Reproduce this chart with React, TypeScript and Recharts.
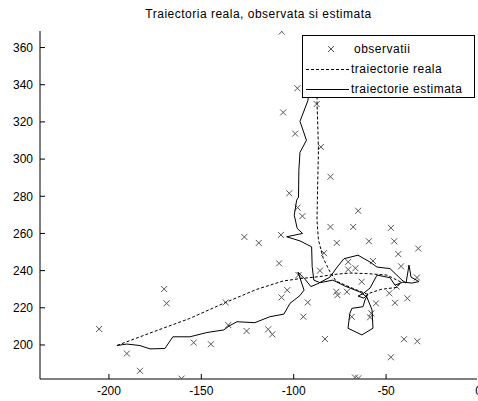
import React from "react";
import { ScatterChart, Scatter, XAxis, YAxis } from "recharts";

type Pt = { x: number; y: number };

// observatii (zgomotoase)
const obsX = [
  -106.5, -98.0, -87.6, -105.7, -99.2, -85.3, -80.1, -102.4, -97.9, -95.3,
  -65.1, -126.7, -118.9, -106.9, -107.9, -83.6, -85.8, -97.4, -103.5, -106.6,
  -92.4, -94.8, -136.8, -135.4, -125.5, -113.8, -111.6, -154.1, -144.8, -83.1,
  -80.1, -67.8, -47.4, -76.7, -59.3, -45.6, -32.6, -43.4, -57.1, -41.9,
  -70.5, -66.6, -70.5, -33.3, -63.2, -76.9, -71.2, -76.3, -44.3, -48.3,
  -38.5, -45.2, -55.5, -58.0, -68.6, -58.7, -40.3, -33.1, -47.4, -66.8,
  -65.0, -170.1, -168.8, -205.3, -190.3, -183.2, -160.7,
];
const obsY = [
  368.6, 338.1, 329.6, 325.1, 313.7, 306.5, 290.5, 281.6, 273.9, 269.3,
  272.2, 258.1, 254.9, 259.2, 243.9, 249.4, 240.0, 237.6, 229.5, 225.6,
  222.9, 215.2, 222.9, 210.7, 207.5, 208.4, 205.7, 201.3, 200.4, 203.2,
  263.5, 263.5, 263.0, 254.9, 255.8, 255.8, 251.9, 248.9, 245.2, 242.3,
  244.7, 241.3, 240.6, 236.3, 234.0, 228.6, 228.6, 226.8, 231.4, 227.8,
  225.1, 222.7, 222.4, 217.0, 215.2, 214.9, 203.1, 202.0, 193.4, 182.5,
  182.1, 230.1, 222.4, 208.6, 195.4, 186.1, 181.9,
];

// traiectorie reala
const realX = [
  -195.5, -177.8, -156.2, -136.8, -120.1, -105.8, -96.6, -85.8, -78.8, -69.6,
  -60.4, -49.5, -41.9, -44.1, -52.8, -60.4, -69.6, -77.1, -80.4, -84.0,
  -86.6, -87.4, -87.1, -86.6, -86.9, -87.4, -86.9,
];
const realY = [
  199.8, 206.4, 214.3, 222.9, 229.9, 234.4, 235.7, 236.8, 237.9, 238.7,
  238.4, 237.6, 233.8, 231.0, 229.9, 227.4, 231.1, 234.4, 239.4, 246.6,
  256.4, 267.1, 283.2, 304.7, 315.4, 331.5, 353.0,
];

// traiectorie estimata
const estX = [
  -195.7, -190.3, -183.2, -177.8, -169.7, -165.4, -156.2, -147.0, -137.8, -135.0,
  -130.7, -121.0, -112.9, -105.3, -102.0, -96.6, -94.4, -97.7, -93.9, -90.7,
  -86.9, -80.4, -76.1, -72.8, -65.2, -58.7, -54.9, -47.9, -41.4, -39.2,
  -37.6, -36.5, -32.2, -36.0, -40.9, -45.2, -47.9, -54.9, -58.7, -62.5,
  -65.2, -62.0, -59.8, -61.4, -62.5, -68.5, -69.6, -70.6, -63.1, -57.1,
  -57.6, -60.4, -64.1, -72.3, -78.8, -85.8, -89.1, -90.0, -90.3, -96.6,
  -103.8, -95.2, -98.1, -99.7, -98.4, -97.4, -97.2, -96.6, -93.1, -96.6,
  -92.3, -91.2,
];
const estY = [
  199.7, 200.5, 199.7, 197.9, 198.1, 204.4, 204.4, 206.7, 208.1, 210.2,
  212.5, 212.0, 215.2, 216.6, 222.4, 226.6, 229.5, 239.2, 235.4, 231.4,
  233.0, 236.5, 242.4, 246.4, 248.3, 244.6, 241.9, 241.1, 234.9, 233.3,
  243.0, 236.5, 234.1, 233.3, 233.8, 232.2, 236.2, 237.6, 230.6, 227.6,
  226.3, 225.2, 227.4, 224.2, 220.6, 219.7, 217.0, 209.0, 205.4, 209.0,
  218.8, 225.8, 228.5, 231.7, 234.9, 233.5, 234.9, 242.1, 252.8, 256.0,
  258.2, 260.0, 262.7, 269.8, 277.9, 279.5, 294.0, 303.6, 310.1, 320.3,
  331.5, 347.7,
];

const xTicks = [-200, -150, -100, -50, 0];
const yTicks = [200, 220, 240, 260, 280, 300, 320, 340, 360];

const zip = (xs: number[], ys: number[]): Pt[] => xs.map((x, i) => ({ x, y: ys[i] }));

const observatii = zip(obsX, obsY);
const reala = zip(realX, realY);
const estimata = zip(estX, estY);

const font = "'Liberation Sans', Arial, Helvetica, sans-serif";

const Cross = (props: any) => {
  const { cx, cy } = props;
  if (cx == null || cy == null) return <g />;
  return (
    <path
      d={`M${cx - 3},${cy - 3}L${cx + 3},${cy + 3}M${cx + 3},${cy - 3}L${cx - 3},${cy + 3}`}
      stroke="#555"
      strokeWidth={1}
      fill="none"
    />
  );
};

const NoShape = () => <g />;

const LegendBox = () => (
  <div
    style={{
      position: "absolute",
      left: 302,
      top: 35,
      width: 171,
      height: 61,
      border: "1px solid #000",
      background: "#fff",
      fontFamily: font,
      fontSize: 12,
      letterSpacing: 0.5,
      color: "#000",
    }}
  >
    {[
      { label: "observatii", kind: "x" },
      { label: "traiectorie reala", kind: "dash" },
      { label: "traiectorie estimata", kind: "solid" },
    ].map((r, i) => (
      <div
        key={r.label}
        style={{ position: "absolute", top: 4 + i * 20, left: 0, height: 18, display: "flex", alignItems: "center" }}
      >
        <svg width={48} height={18} style={{ display: "block" }}>
          {r.kind === "x" && (
            <path d="M25,6L31,12M31,6L25,12" stroke="#555" strokeWidth={1} />
          )}
          {r.kind === "dash" && (
            <line x1={3} y1={9.5} x2={46} y2={9.5} stroke="#000" strokeDasharray="3 2" />
          )}
          {r.kind === "solid" && <line x1={3} y1={9.5} x2={46} y2={9.5} stroke="#000" />}
        </svg>
        <span style={{ marginLeft: r.kind === "x" ? 3 : 0, whiteSpace: "nowrap" }}>{r.label}</span>
      </div>
    ))}
  </div>
);

const axisTick = { fill: "#000", fontSize: 12, fontFamily: font };

export default function App() {
  return (
    <div style={{ position: "absolute", left: 0, top: 0, width: 478, height: 401, background: "#fff" }}>
      <div
        style={{
          position: "absolute",
          left: 40,
          width: 437,
          top: 7,
          textAlign: "center",
          fontFamily: font,
          fontSize: 12,
          letterSpacing: 0.5,
          color: "#000",
        }}
      >
        Traiectoria reala, observata si estimata
      </div>
      <ScatterChart width={478} height={401} margin={{ top: 31, right: 1, bottom: 0, left: 0 }}>
        <XAxis
          xAxisId="b"
          type="number"
          dataKey="x"
          domain={[-237.3, -0.8]}
          ticks={xTicks}
          interval={0}
          allowDataOverflow
          height={22}
          tickSize={-5}
          tickMargin={12}
          stroke="#000"
          tick={axisTick}
        />
        <XAxis
          xAxisId="t"
          orientation="top"
          type="number"
          dataKey="x"
          domain={[-237.3, -0.8]}
          ticks={xTicks}
          interval={0}
          allowDataOverflow
          height={0}
          tickSize={-5}
          stroke="#000"
          tick={false}
        />
        <YAxis
          yAxisId="l"
          type="number"
          dataKey="y"
          domain={[181.7, 368.9]}
          ticks={yTicks}
          interval={0}
          allowDataOverflow
          width={40}
          tickSize={-5}
          tickMargin={12}
          stroke="#000"
          tick={axisTick}
        />
        <YAxis
          yAxisId="r"
          orientation="right"
          type="number"
          dataKey="y"
          domain={[181.7, 368.9]}
          ticks={yTicks}
          interval={0}
          allowDataOverflow
          width={0}
          tickSize={-5}
          stroke="#000"
          tick={false}
        />
        <Scatter
          name="observatii"
          data={observatii}
          xAxisId="b"
          yAxisId="l"
          shape={Cross}
          isAnimationActive={false}
        />
        <Scatter
          name="traiectorie reala"
          data={reala}
          xAxisId="b"
          yAxisId="l"
          shape={NoShape}
          line={{ stroke: "#000", strokeWidth: 1, strokeDasharray: "3 2" }}
          lineType="joint"
          isAnimationActive={false}
        />
        <Scatter
          name="traiectorie estimata"
          data={estimata}
          xAxisId="b"
          yAxisId="l"
          shape={NoShape}
          line={{ stroke: "#000", strokeWidth: 1 }}
          lineType="joint"
          isAnimationActive={false}
        />
      </ScatterChart>
      <LegendBox />
    </div>
  );
}
